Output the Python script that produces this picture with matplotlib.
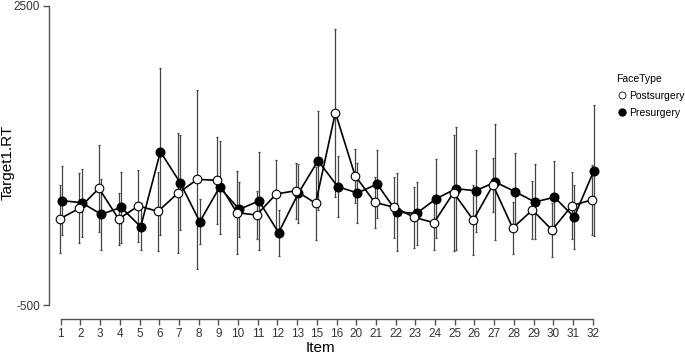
import numpy as np
import matplotlib
matplotlib.use('Agg')
import matplotlib.pyplot as plt
from matplotlib.lines import Line2D

plt.rcParams['font.family'] = ['Liberation Sans', 'DejaVu Sans']

items = ['1', '2', '3', '4', '5', '6', '7', '8', '9', '10', '11', '12', '13', '15',
         '16', '20', '21', '22', '23', '24', '25', '26', '27', '28', '29', '30', '31', '32']

post_mean = [363, 470, 671, 363, 494, 440, 621, 761, 751, 427, 403, 614, 647, 520,
             1430, 798, 530, 480, 380, 326, 627, 353, 704, 273, 453, 253, 497, 554]
post_err = [343, 351, 435, 262, 359, 396, 602, 895, 435, 413, 244, 343, 279, 364,
            844, 270, 259, 304, 304, 278, 580, 354, 273, 262, 293, 271, 339, 351]

pre_mean = [547, 527, 410, 480, 286, 1039, 728, 336, 681, 460, 544, 226, 621, 948,
            688, 624, 714, 433, 420, 567, 667, 647, 734, 637, 534, 581, 383, 848]
pre_err = [346, 341, 359, 359, 237, 836, 477, 224, 468, 279, 490, 231, 293, 497,
           304, 301, 343, 388, 318, 396, 619, 410, 585, 393, 376, 364, 318, 655]

x = np.arange(len(items))
dodge = 0.06
axcol = '#555555'

fig = plt.figure(figsize=(6.85, 3.57), dpi=100)
ax = fig.add_axes([49 / 685, 38 / 357, (592.7 - 49) / 685, (319 - 6) / 357])

# error bars, slightly dodged like the original
for xs, m, e in [(x + dodge, pre_mean, pre_err), (x - dodge, post_mean, post_err)]:
    eb = ax.errorbar(xs, m, yerr=e, fmt='none', ecolor='#444444',
                     elinewidth=0.9, capsize=1, capthick=0.9, zorder=1)
    for art in list(eb.lines[1]) + list(eb.lines[2]):
        art.set_clip_on(False)

ax.plot(x + dodge, pre_mean, '-o', color='black', lw=1.2, ms=6.2,
        mfc='black', mec='black', zorder=3, clip_on=False)
ax.plot(x - dodge, post_mean, '-o', color='black', lw=1.2, ms=6.2,
        mfc='white', mec='black', mew=0.8, zorder=4, clip_on=False)

ax.set_xlim(-0.594, len(items) - 1)
ax.set_ylim(-640, 2500)

for s in ['top', 'right']:
    ax.spines[s].set_visible(False)
ax.spines['left'].set_bounds(-500, 2500)
ax.spines['bottom'].set_bounds(0, len(items) - 1)
for s in ['left', 'bottom']:
    ax.spines[s].set_color(axcol)
    ax.spines[s].set_linewidth(1.0)

ax.set_yticks([-500, 2500])
ax.set_yticklabels(['-500', '2500'])
ax.set_xticks(x)
ax.set_xticklabels(items)
ax.tick_params(axis='both', direction='out', length=4.5, width=1.0, color=axcol,
               labelsize=8.5, labelcolor='#333333', pad=2)

ax.set_xlabel('Item', fontsize=11, labelpad=1)
ax.set_ylabel('Target1.RT', fontsize=11, va='center')
ax.yaxis.set_label_coords((7.5 - 49) / 543.7, 0.5)

h_post = Line2D([], [], marker='o', ls='none', mfc='white', mec='black', mew=0.6, ms=5)
h_pre = Line2D([], [], marker='o', ls='none', mfc='black', mec='black', ms=5)
fig.legend([h_post, h_pre], ['Postsurgery', 'Presurgery'], title='FaceType',
           loc='upper left', bbox_to_anchor=(609 / 685, 1 - 67 / 357),
           frameon=False, fontsize=7.5, title_fontsize=7.5,
           handletextpad=0.2, labelspacing=0.65, handlelength=1.0,
           borderpad=0.2, alignment='left')

fig.savefig('out.png', dpi=100)
